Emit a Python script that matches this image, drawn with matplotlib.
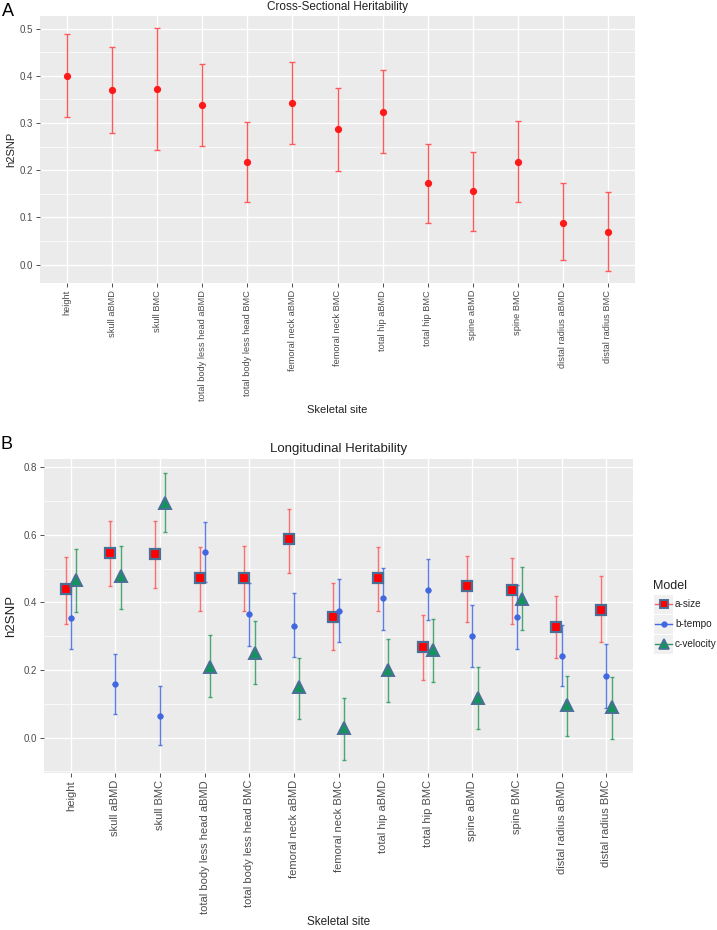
import matplotlib
matplotlib.use("Agg")
import matplotlib.pyplot as plt
from matplotlib.patches import Rectangle
from matplotlib.lines import Line2D
import numpy as np

plt.rcParams['font.family'] = ['Liberation Sans', 'DejaVu Sans']

sites = ["height", "skull aBMD", "skull BMC", "total body less head aBMD",
         "total body less head BMC", "femoral neck aBMD", "femoral neck BMC",
         "total hip aBMD", "total hip BMC", "spine aBMD", "spine BMC",
         "distal radius aBMD", "distal radius BMC"]

# Panel A: cross-sectional heritability
cs_est = [0.400, 0.371, 0.372, 0.339, 0.218, 0.343, 0.287, 0.324, 0.173, 0.156, 0.218, 0.089, 0.070]
cs_low = [0.312, 0.280, 0.243, 0.252, 0.132, 0.255, 0.198, 0.236, 0.089, 0.072, 0.133, 0.009, -0.013]
cs_high = [0.488, 0.462, 0.501, 0.426, 0.302, 0.430, 0.374, 0.413, 0.256, 0.239, 0.304, 0.173, 0.153]

# Panel B: longitudinal heritability
models = ["a-size", "b-tempo", "c-velocity"]
a_est = [0.439, 0.545, 0.543, 0.472, 0.473, 0.587, 0.356, 0.472, 0.268, 0.447, 0.436, 0.328, 0.378]
a_low = [0.336, 0.448, 0.442, 0.374, 0.374, 0.488, 0.258, 0.374, 0.170, 0.343, 0.336, 0.234, 0.283]
a_high = [0.533, 0.640, 0.642, 0.565, 0.567, 0.676, 0.458, 0.565, 0.363, 0.538, 0.531, 0.418, 0.477]
b_est = [0.355, 0.157, 0.065, 0.549, 0.365, 0.331, 0.375, 0.412, 0.437, 0.300, 0.357, 0.242, 0.182]
b_low = [0.261, 0.069, -0.023, 0.460, 0.272, 0.238, 0.284, 0.319, 0.349, 0.209, 0.263, 0.151, 0.086]
b_high = [0.449, 0.248, 0.151, 0.638, 0.458, 0.427, 0.468, 0.502, 0.528, 0.393, 0.451, 0.334, 0.278]
c_est = [0.467, 0.477, 0.695, 0.210, 0.251, 0.148, 0.028, 0.199, 0.259, 0.116, 0.410, 0.095, 0.089]
c_low = [0.371, 0.380, 0.607, 0.119, 0.157, 0.054, -0.068, 0.105, 0.164, 0.025, 0.317, 0.003, -0.003]
c_high = [0.557, 0.567, 0.782, 0.304, 0.344, 0.236, 0.116, 0.290, 0.350, 0.210, 0.503, 0.183, 0.178]

W, H = 717, 930
fig = plt.figure(figsize=(W / 100, H / 100), dpi=100)

BG = "#EBEBEB"
TXT = "#4D4D4D"
EDGE = "#4A6F96"


def px_axes(left, top, right, bottom):
    return fig.add_axes([left / W, 1 - bottom / H, (right - left) / W, (bottom - top) / H])


def style(ax, major, minor, ylim, fs_x):
    ax.set_facecolor(BG)
    for s in ax.spines.values():
        s.set_visible(False)
    ax.set_xlim(-0.6, 12.6)
    ax.set_ylim(*ylim)
    ax.set_yticks(major)
    ax.set_yticks(minor, minor=True)
    ax.set_xticks(range(len(sites)))
    ax.set_xticklabels(sites, rotation=90, color=TXT, va="top", ha="center")
    ax.tick_params(axis="both", which="major", length=3, color="#333333", width=0.6, labelsize=7, labelcolor=TXT, pad=2)
    ax.tick_params(axis="x", which="major", labelsize=fs_x)
    ax.tick_params(axis="y", which="minor", length=0)
    ax.grid(True, which="major", color="white", linewidth=1.0)
    ax.grid(True, which="minor", axis="y", color="white", linewidth=0.5)
    ax.set_axisbelow(True)
    ax.yaxis.set_major_formatter(matplotlib.ticker.FormatStrFormatter("%.1f"))


# ---- Panel A ----
ax1 = px_axes(40, 16, 635, 283)
style(ax1, [0.0, 0.1, 0.2, 0.3, 0.4, 0.5], [0.05, 0.15, 0.25, 0.35, 0.45], (-0.039, 0.527), 6.7)
x = np.arange(len(sites))
cs_est_a = np.array(cs_est)
ax1.errorbar(x, cs_est_a, yerr=[cs_est_a - np.array(cs_low), np.array(cs_high) - cs_est_a],
             fmt="none", ecolor="#FF5A5A", elinewidth=1.0, capsize=2, capthick=1.0)
ax1.plot(x, cs_est_a, "o", color="#FF1A1A", markersize=4.2, linestyle="none")
ax1.set_title("Cross-Sectional Heritability", fontsize=8.5, color="#222222", pad=4)
ax1.set_xlabel("Skeletal site", fontsize=8, color="#222222", labelpad=3)
ax1.set_ylabel("h2SNP", fontsize=8, color="#222222")
ax1.yaxis.set_label_coords(-0.040, 0.5)
fig.text(2 / W, 1 - 11 / H, "A", fontsize=13, va="center", ha="left")

# ---- Panel B ----
ax2 = px_axes(44, 459, 633, 773)
style(ax2, [0.0, 0.2, 0.4, 0.6, 0.8], [-0.1, 0.1, 0.3, 0.5, 0.7], (-0.105, 0.824), 8.0)

series = [
    (a_est, a_low, a_high, -0.115, "#FF5A5A", dict(marker="s", markersize=7.2, markerfacecolor="#FF0000",
                                                  markeredgecolor=EDGE, markeredgewidth=1.6)),
    (b_est, b_low, b_high, 0.0, "#4169E1", dict(marker="o", markersize=4.0, markerfacecolor="#3F67E0",
                                              markeredgecolor="#3F67E0", markeredgewidth=0.5)),
    (c_est, c_low, c_high, 0.12, "#2E9B5E", dict(marker="^", markersize=9.0, markerfacecolor="#12955A",
                                               markeredgecolor=EDGE, markeredgewidth=1.4)),
]
for est, lo, hi, off, ecol, mk in series:
    est = np.array(est)
    ax2.errorbar(x + off, est, yerr=[est - np.array(lo), np.array(hi) - est],
                 fmt="none", ecolor=ecol, elinewidth=1.0, capsize=1.2, capthick=1.0, alpha=0.85)
for est, lo, hi, off, ecol, mk in series:
    ax2.plot(x + off, est, linestyle="none", **mk)

ax2.set_title("Longitudinal Heritability", fontsize=9.5, color="#222222", pad=5)
ax2.set_xlabel("Skeletal site", fontsize=8.5, color="#222222", labelpad=1.5)
ax2.set_ylabel("h2SNP", fontsize=9.5, color="#222222")
ax2.yaxis.set_label_coords(-0.046, 0.5)
fig.text(0 / W, 1 - 444 / H, "B", fontsize=13, va="center", ha="left")

# ---- Legend (manual, ggplot-like) ----
lg = fig.add_axes([0, 0, 1, 1])
lg.set_xlim(0, W)
lg.set_ylim(H, 0)
lg.axis("off")
lg.text(653, 586, "Model", fontsize=9, color="#222222", va="center", ha="left")
rows = [604, 624, 644]
leg_mk = [dict(marker="s", markersize=6.0, markerfacecolor="#FF0000", markeredgecolor=EDGE, markeredgewidth=1.4),
          dict(marker="o", markersize=3.5, markerfacecolor="#3F67E0", markeredgecolor="#3F67E0"),
          dict(marker="^", markersize=7.0, markerfacecolor="#12955A", markeredgecolor=EDGE, markeredgewidth=1.2)]
for (est, lo, hi, off, ecol, mk), lmk, name, yy in zip(series, leg_mk, models, rows):
    lg.add_patch(Rectangle((654, yy - 9.5), 19, 19, facecolor="#F0F0F0", edgecolor="none"))
    lg.add_line(Line2D([655, 672], [yy, yy], color=ecol, linewidth=1.0))
    lg.plot([663.5], [yy], linestyle="none", **lmk)
    lg.text(675, yy, name, fontsize=7.2, color="#222222", va="center", ha="left")

fig.savefig("out.png", dpi=100)
